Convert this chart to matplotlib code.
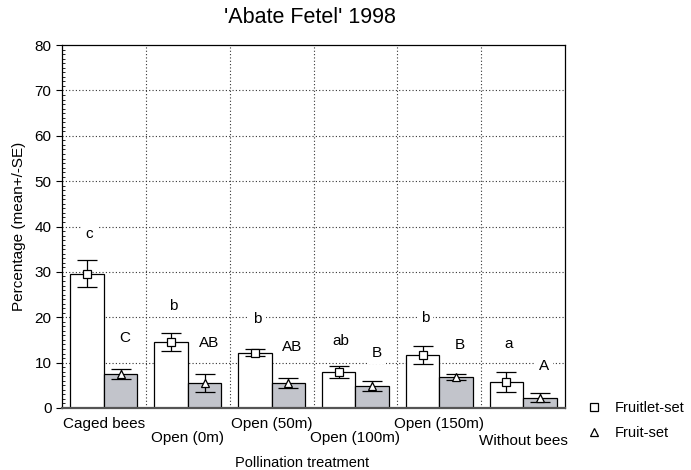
import matplotlib
matplotlib.use("Agg")
import matplotlib.pyplot as plt
from matplotlib.ticker import MultipleLocator
import numpy as np

plt.rcParams["font.family"] = ["Liberation Sans", "DejaVu Sans"]

categories = ["Caged bees", "Open (0m)", "Open (50m)", "Open (100m)", "Open (150m)", "Without bees"]
fruitlet_mean = [29.6, 14.5, 12.2, 8.0, 11.7, 5.7]
fruitlet_se = [3.0, 2.0, 0.8, 1.3, 1.9, 2.2]
fruit_mean = [7.4, 5.5, 5.5, 4.8, 6.8, 2.3]
fruit_se = [1.1, 2.0, 1.2, 1.1, 0.6, 1.0]
lower_letters = ["c", "b", "b", "ab", "b", "a"]
lower_y = [38.3, 22.5, 19.6, 14.8, 19.8, 14.1]
upper_letters = ["C", "AB", "AB", "B", "B", "A"]
upper_y = [15.4, 14.3, 13.4, 12.1, 13.9, 9.2]

GRAY = "#c2c4cb"

fig = plt.figure(figsize=(6.91, 4.70), dpi=100)
ax = fig.add_axes([0.0897, 0.132, 0.728, 0.772])

x = np.arange(len(categories))
w = 0.4

# dotted grid, under the bars
for yv in range(10, 80, 10):
    ax.axhline(yv, color="#333333", lw=0.8, ls=(0, (1, 2)), zorder=0)
for xv in x[:-1] + 0.5:
    ax.axvline(xv, color="#333333", lw=0.8, ls=(0, (1, 2)), zorder=0)

ax.bar(x - w / 2, fruitlet_mean, w, color="white", edgecolor="black", lw=0.9, zorder=2)
ax.bar(x + w / 2, fruit_mean, w, color=GRAY, edgecolor="black", lw=0.9, zorder=2)

ax.errorbar(x - w / 2, fruitlet_mean, yerr=fruitlet_se, fmt="s", ms=6, mfc="white",
            mec="black", mew=0.9, ecolor="black", elinewidth=0.9, capsize=7, capthick=0.9, zorder=3)
ax.errorbar(x + w / 2, fruit_mean, yerr=fruit_se, fmt="^", ms=6, mfc="white",
            mec="black", mew=0.9, ecolor="black", elinewidth=0.9, capsize=7, capthick=0.9, zorder=3)

for i in range(len(categories)):
    ax.text(x[i] - w / 2 + 0.03, lower_y[i], lower_letters[i], ha="center", va="center",
            fontsize=11, bbox=dict(facecolor="white", edgecolor="none", pad=3), zorder=4)
    ax.text(x[i] + w / 2 + 0.05, upper_y[i], upper_letters[i], ha="center", va="center",
            fontsize=11, bbox=dict(facecolor="white", edgecolor="none", pad=3), zorder=4)

ax.set_xlim(-0.5, len(categories) - 0.5)
ax.set_ylim(0, 80)
ax.yaxis.set_major_locator(MultipleLocator(10))
ax.yaxis.set_minor_locator(MultipleLocator(1))
ax.tick_params(axis="y", which="major", direction="out", length=4, labelsize=11)
ax.tick_params(axis="y", which="minor", direction="in", length=2, width=0.6)
ax.set_xticks(x)
ax.set_xticklabels([])
ax.tick_params(axis="x", length=0)
for sp in ax.spines.values():
    sp.set_linewidth(0.9)
ax.spines["bottom"].set_linewidth(1.6)
ax.spines["bottom"].set_color("#555555")

# staggered category labels
label_off = [-0.045, -0.083, -0.045, -0.083, -0.045, -0.09]
for i, name in enumerate(categories):
    ax.text(x[i], label_off[i], name, transform=ax.get_xaxis_transform(),
            ha="center", va="center", fontsize=11)

ax.set_ylabel("Percentage (mean+/-SE)", fontsize=11, labelpad=6)
fig.text(0.437, 0.015, "Pollination treatment", ha="center", va="center", fontsize=10.5)
fig.text(0.449, 0.963, "'Abate Fetel' 1998", ha="center", va="center", fontsize=15.5)

# legend outside at right
fig.legend(handles=[
    plt.Line2D([], [], marker="s", ls="none", mfc="white", mec="black", ms=5.5, mew=0.9),
    plt.Line2D([], [], marker="^", ls="none", mfc="white", mec="black", ms=5.5, mew=0.9)],
    labels=["Fruitlet-set", "Fruit-set"], loc="center left", bbox_to_anchor=(0.83, 0.105),
    frameon=False, fontsize=10.5, handletextpad=0.9, labelspacing=0.75, handlelength=1.0)

fig.savefig("out.png", dpi=100)
